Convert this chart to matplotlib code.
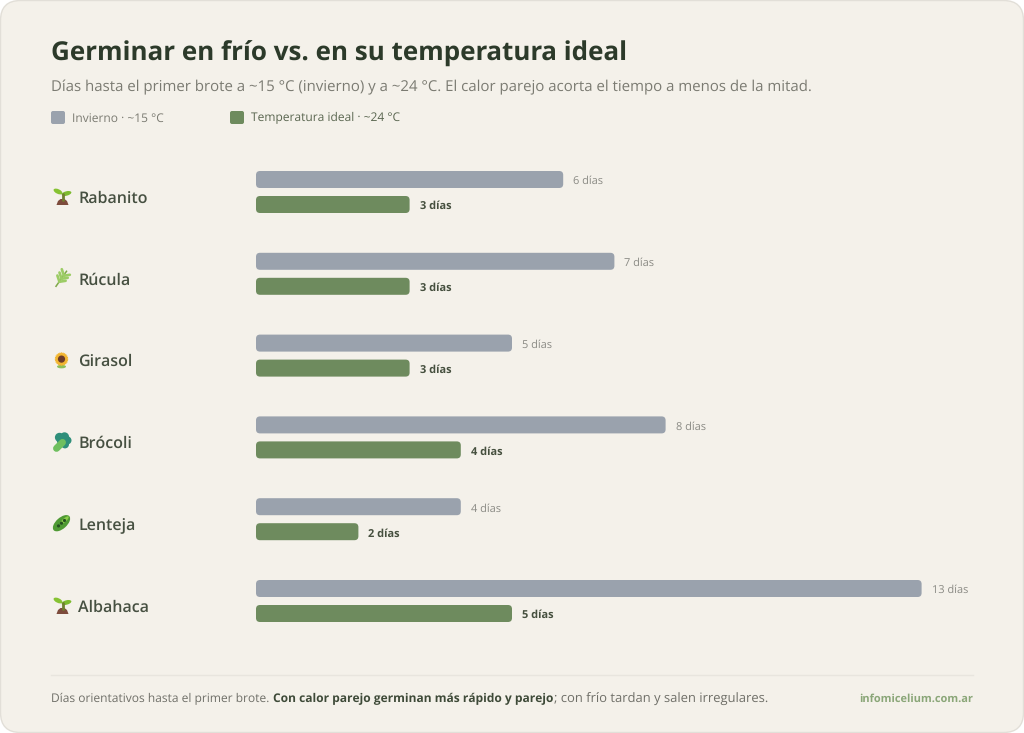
import matplotlib
matplotlib.use('Agg')
import matplotlib.pyplot as plt
from matplotlib.patches import FancyBboxPatch, Circle, Ellipse, Polygon

cultivos = ['Rabanito', 'Rúcula', 'Girasol', 'Brócoli', 'Lenteja', 'Albahaca']
iconos = ['brote', 'hierba', 'girasol', 'brocoli', 'vaina', 'brote']
dias_frio = [6, 7, 5, 8, 4, 13]
dias_ideal = [3, 3, 3, 4, 2, 5]

FONDO = '#f4f1ea'
GRIS = '#9aa2ad'
VERDE = '#6e8b5e'
OSCURO = '#2c3a2a'
FUENTE = ['Open Sans', 'Noto Sans', 'DejaVu Sans']

plt.rcParams['font.family'] = FUENTE
plt.rcParams['text.hinting'] = 'no_hinting'
plt.rcParams['text.hinting_factor'] = 1

W, H = 1024, 733
PX_DIA = 51.2
FILA = 81.8
fig = plt.figure(figsize=(W / 100, H / 100), dpi=100, facecolor='white')

# capa en pixeles para tarjeta, textos e iconos
fondo = fig.add_axes([0, 0, 1, 1])
fondo.set_xlim(0, W)
fondo.set_ylim(H, 0)
fondo.axis('off')
fondo.add_patch(FancyBboxPatch((0.5, 0.5), W - 1, H - 1, boxstyle='round,pad=0,rounding_size=20',
                               fc=FONDO, ec='#e2dfd8', lw=1))

# ejes de las barras: x en dias, y en filas
x0, x1 = 256, 972
y0 = 192 - FILA / 2
alto = FILA * len(cultivos)
ax = fig.add_axes([x0 / W, 1 - (y0 + alto) / H, (x1 - x0) / W, alto / H])
ax.patch.set_alpha(0)
ax.set_xlim(0, (x1 - x0) / PX_DIA)
ax.set_ylim(len(cultivos) - 0.5, -0.5)
ax.axis('off')

alto_barra = 17 / FILA
sep = 12.5 / FILA
aspecto = (1 / FILA) / (1 / PX_DIA)


def barra(valor, y, color):
    ax.add_patch(FancyBboxPatch((0, y - alto_barra / 2), valor, alto_barra,
                                boxstyle='round,pad=0,rounding_size=%f' % (4 / PX_DIA),
                                mutation_aspect=aspecto, fc=color, ec='none'))


def brote(cx, cy):
    fondo.plot([cx + 1, cx + 1], [cy - 3, cy + 3], color='#6f7f30', lw=2, solid_capstyle='round')
    fondo.add_patch(Ellipse((cx - 3.5, cy - 5.5), 9.5, 4.6, angle=25, fc='#86c232', ec='none'))
    fondo.add_patch(Ellipse((cx + 5, cy - 3.5), 10, 4.4, angle=-15, fc='#7dbb2e', ec='none'))
    fondo.add_patch(Polygon([(cx - 5, cy + 8), (cx - 3.5, cy + 4), (cx - 1, cy + 2), (cx + 3, cy + 2),
                             (cx + 5.5, cy + 4), (cx + 7, cy + 8)], fc='#7d4b3c', ec='none'))


def hierba(cx, cy):
    fondo.plot([cx - 5.5, cx + 5], [cy + 7.5, cy - 7.5], color='#7fa84a', lw=1.1)
    for t, lado in [(0.3, 1), (0.5, 1), (0.7, 1), (0.32, -1), (0.52, -1), (0.74, -1)]:
        px = cx - 5.5 + 10.5 * t
        py = cy + 7.5 - 15 * t
        qx = px + (6.5 if lado > 0 else -2)
        qy = py + (-1 if lado > 0 else -6)
        fondo.plot([px, qx], [py, qy], color='#9ccc65', lw=1.9, solid_capstyle='round')


def girasol(cx, cy):
    fondo.add_patch(Ellipse((cx, cy + 6), 9, 3.5, fc='#8fbf5a', ec='none'))
    for k in range(12):
        fondo.add_patch(Ellipse((cx, cy - 1.5), 3.6, 13.6, angle=15 * k, fc='#f2b632', ec='none'))
    fondo.add_patch(Circle((cx, cy - 1.5), 3.6, fc='#6b3b2a', ec='none'))


def brocoli(cx, cy):
    fondo.plot([cx - 5, cx + 1], [cy + 6, cy], color='#6fbf5f', lw=5, solid_capstyle='round')
    for dx, dy, r in [(-2, -5, 4.6), (3, -5.5, 4.6), (6, -2, 4), (3.5, 2, 4), (0, -1.5, 4.6)]:
        fondo.add_patch(Circle((cx + dx, cy + dy), r, fc='#2f8f7a', ec='none'))


def vaina(cx, cy):
    fondo.add_patch(Ellipse((cx, cy - 1), 21, 11, angle=-42, fc='#4f9a34', ec='none'))
    fondo.add_patch(Ellipse((cx + 3, cy - 4), 11, 3.5, angle=-42, fc='#8ccf4a', ec='none'))
    for d in (-3, 0, 3):
        fondo.add_patch(Circle((cx + d, cy - 1 - d * 0.9), 1.6, fc='#25511f', ec='none'))


dibujar = {'brote': brote, 'hierba': hierba, 'girasol': girasol, 'brocoli': brocoli, 'vaina': vaina}

for i, nombre in enumerate(cultivos):
    barra(dias_frio[i], i - sep, GRIS)
    barra(dias_ideal[i], i + sep, VERDE)
    ax.annotate('%d días' % dias_frio[i], (dias_frio[i], i - sep), xytext=(7.2, -1.4),
                textcoords='offset points', va='center', fontsize=8.2, color='#8a8a84')
    ax.annotate('%d días' % dias_ideal[i], (dias_ideal[i], i + sep), xytext=(7.2, -1.4),
                textcoords='offset points', va='center', fontsize=8.2, color='#46503f', fontweight='bold')
    yc = 192 + FILA * i + 5
    fondo.text(78, yc + 1.5, nombre, va='center', fontsize=11.2, fontweight=600, color='#465041')
    dibujar[iconos[i]](61.5, yc)

# titulo y subtitulo
fondo.text(51, 54, 'Germinar en frío vs. en su temperatura ideal', va='center', fontsize=19,
           fontweight='bold', color=OSCURO)
fondo.text(51, 87, 'Días hasta el primer brote a ~15 °C (invierno) y a ~24 °C. El calor parejo acorta el tiempo a menos de la mitad.',
           va='center', fontsize=10.5, color='#7b7b72')

# leyenda
for xl, color, txt, xt in [(51, GRIS, 'Invierno · ~15 °C', 72), (230, VERDE, 'Temperatura ideal · ~24 °C', 251)]:
    fondo.add_patch(FancyBboxPatch((xl, 111), 14, 13, boxstyle='round,pad=0,rounding_size=2', fc=color, ec='none'))
    fondo.text(xt, 118.5, txt, va='center', fontsize=8.75, color='#7b7b72' if color == GRIS else '#5a6650')

# pie
fondo.plot([51, 973], [675, 675], color='#e8e5de', lw=1)
xp = 51
for txt, peso, tam, color in [('Días orientativos hasta el primer brote.', 'normal', 8.9, '#6f6f68'),
                              ('Con calor parejo germinan más rápido y parejo', 'bold', 8.75, '#3e4a38'),
                              ('; con frío tardan y salen irregulares.', 'normal', 9, '#6f6f68')]:
    t = fondo.text(xp, 699, txt, va='center', fontsize=tam, fontweight=peso, color=color)
    caja = t.get_window_extent(fig.canvas.get_renderer())
    xp = caja.x1 + (4 if txt.endswith('.') else 0)
fondo.text(973, 699, 'infomicelium.com.ar', va='center', ha='right', fontsize=8.2, fontweight='bold', color='#8aa678')

fig.savefig('out.png', dpi=100, facecolor='white')
